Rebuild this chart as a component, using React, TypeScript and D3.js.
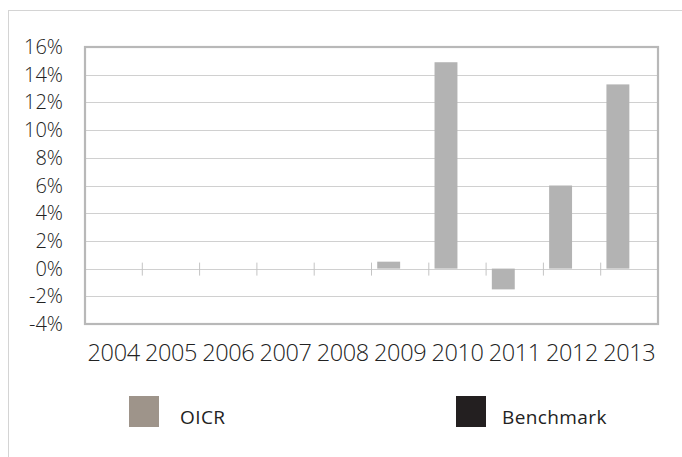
import React from "react";
import * as d3 from "d3";

const years = ["2004", "2005", "2006", "2007", "2008", "2009", "2010", "2011", "2012", "2013"];
const oicr: (number | null)[] = [null, null, null, null, null, 0.5, 14.9, -1.5, 6.0, 13.3];
const benchmark: (number | null)[] = [null, null, null, null, null, null, null, null, null, null];
const yTicks = [-4, -2, 0, 2, 4, 6, 8, 10, 12, 14, 16];
const seriesNames = ["OICR", "Benchmark"];
const seriesColors = ["#9e948a", "#231f20"];

export default function App() {
  const W = 682, H = 457;
  const left = 85, right = 658, top = 47, bottom = 324;
  const x = d3.scaleBand<string>().domain(years).range([left, right]).paddingInner(0).paddingOuter(0);
  const y = d3.scaleLinear().domain([-4, 16]).range([bottom, top]);
  const bw = x.bandwidth();
  const barW = bw / 2.5;
  const gap = (bw - 2 * barW) / 2;
  const font = "'Open Sans', sans-serif";
  const y0 = y(0);
  return (
    <svg width={W} height={H} style={{ position: "absolute", left: 0, top: 0 }}>
      <rect x={0} y={0} width={W} height={H} fill="#fff" />
      <rect x={8.5} y={10.5} width={W + 10} height={H + 10} fill="none" stroke="#d4d4d4" strokeWidth={1} />
      {yTicks.map((t) => (
        <g key={t}>
          <line x1={left} x2={right} y1={Math.round(y(t)) + 0.5} y2={Math.round(y(t)) + 0.5} stroke="#d0d0d0" strokeWidth={1.2} />
          <text x={63} y={y(t)} dy="0.35em" textAnchor="end" fontFamily={font} fontSize={20} fontWeight={300} fill="#222">
            {t}%
          </text>
        </g>
      ))}
      {years.slice(1).map((yr) => (
        <line key={yr} x1={x(yr)!} x2={x(yr)!} y1={y0 - 6} y2={y0 + 7} stroke="#c4c4c4" strokeWidth={1} />
      ))}
      {years.map((yr, i) => {
        const v = oicr[i];
        if (v == null) return null;
        const x0 = x(yr)! + gap;
        return (
          <rect key={yr} x={x0} width={barW} y={Math.min(y(v), y0)} height={Math.abs(y(v) - y0)} fill="#b3b3b3" />
        );
      })}
      {years.map((yr, i) => {
        const v = benchmark[i];
        if (v == null) return null;
        const x0 = x(yr)! + gap + barW;
        return <rect key={yr} x={x0} width={barW} y={Math.min(y(v), y0)} height={Math.abs(y(v) - y0)} fill="#231f20" />;
      })}
      <rect x={left} y={top} width={right - left} height={bottom - top} fill="none" stroke="#b8b8b8" strokeWidth={2.2} />
      {years.map((yr) => (
        <text key={yr} x={x(yr)! + bw / 2} y={353} dy="0.35em" textAnchor="middle" fontFamily={font} fontSize={23.5} fontWeight={300} fill="#222" letterSpacing={-0.4}>
          {yr}
        </text>
      ))}
      {seriesNames.map((s, i) => {
        const lx = i === 0 ? 129 : 456;
        return (
          <g key={s}>
            <rect x={lx} y={396} width={30} height={31} fill={seriesColors[i]} />
            <text x={lx + (i === 0 ? 51 : 46)} y={419} fontFamily={font} fontSize={19} fill="#222" fontWeight={500} letterSpacing={0.4} dominantBaseline="middle">
              {s}
            </text>
          </g>
        );
      })}
    </svg>
  );
}
